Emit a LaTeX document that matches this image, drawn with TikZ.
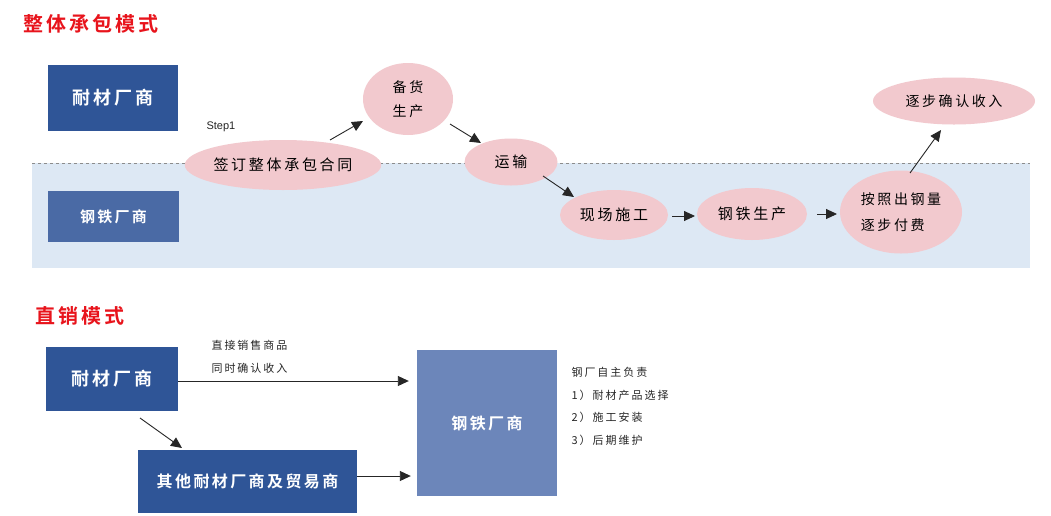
\documentclass[tikz,border=0pt]{standalone}
\usepackage{fontspec}
\setmainfont{Liberation Sans}
\newfontfamily\cjk[LetterSpace=18]{Noto Sans CJK SC}
\newfontfamily\cjkb[LetterSpace=15]{Noto Sans CJK SC Bold}
\usetikzlibrary{shapes.geometric,arrows.meta}
\definecolor{dblue}{HTML}{2F5597}
\definecolor{mblue}{HTML}{4A6AA5}
\definecolor{lblue}{HTML}{6C86BA}
\definecolor{band}{HTML}{DDE8F4}
\definecolor{pinkf}{HTML}{F2C9CE}
\definecolor{tred}{HTML}{E8141C}
\tikzset{
  box/.style={fill=#1, draw=none, text=white, font=\cjkb\fontsize{18}{20}\selectfont, inner sep=0pt},
  ell/.style={ellipse, fill=pinkf, draw=none, inner sep=0pt, font=\cjk\fontsize{15}{20}\selectfont, text=black},
  arr/.style={-{Triangle[length=11pt,width=10pt]}, line width=0.9pt, black!85},
  ttl/.style={text=tred, font=\cjkb\fontsize{20}{22}\selectfont, anchor=west},
  small/.style={font=\cjk\fontsize{11}{14}\selectfont, text=black!85, anchor=west}
}
\begin{document}
\begin{tikzpicture}[x=1pt,y=-1pt]
\useasboundingbox (0,0) rectangle (1051,515);
\fill[white] (0,0) rectangle (1051,515);
% band
\fill[band] (32,163) rectangle (1030,268);
\coordinate (dl) at (32,163);
\coordinate (dr) at (1030,163);
\draw[black!45, dashed, line width=0.6pt] (dl) -- (dr);
% titles
\node[ttl] (t1) at (20,24) {整体承包模式};
\node[ttl] (t2) at (32,316) {直销模式};
% top boxes
\node[box=dblue, minimum width=130pt, minimum height=66pt] (nc1) at (113,98) {耐材厂商};
\node[box=mblue, minimum width=131pt, minimum height=51pt, font=\cjkb\fontsize{15}{18}\selectfont] (gt1) at (113.5,216.5) {钢铁厂商};
\node[anchor=west, font=\fontsize{11}{13}\selectfont, text=black!85] (step) at (203,127) {Step1};
% ellipses
\node[ell, minimum width=195pt, minimum height=50pt] (e1) at (283,165) {签订整体承包合同};
\node[ell, minimum width=90pt, minimum height=72pt, align=center, font=\cjk\fontsize{14}{24}\selectfont] (e2) at (408,99) {备货\\生产};
\node[ell, minimum width=93pt, minimum height=47pt] (e3) at (511,162) {运输};
\node[ell, minimum width=108pt, minimum height=50pt] (e4) at (614,215) {现场施工};
\node[ell, minimum width=110pt, minimum height=52pt] (e5) at (752,214) {钢铁生产};
\node[ell, minimum width=122pt, minimum height=83pt, align=left, font=\cjk\fontsize{14}{26}\selectfont] (e6) at (901,212) {按照出钢量\\逐步付费};
\node[ell, minimum width=162pt, minimum height=47pt, font=\cjk\fontsize{14}{20}\selectfont] (e7) at (954,101) {逐步确认收入};
% arrows top
\coordinate (a1s) at (330,140); \coordinate (a1e) at (363,121);
\coordinate (a2s) at (450,124); \coordinate (a2e) at (481,143);
\coordinate (a3s) at (543,176); \coordinate (a3e) at (574,197);
\coordinate (a4s) at (672,216); \coordinate (a4e) at (695,216);
\coordinate (a5s) at (817,214); \coordinate (a5e) at (837,214);
\coordinate (a6s) at (910,173); \coordinate (a6e) at (941,130);
\draw[arr] (a1s) -- (a1e);
\draw[arr] (a2s) -- (a2e);
\draw[arr] (a3s) -- (a3e);
\draw[arr] (a4s) -- (a4e);
\draw[arr] (a5s) -- (a5e);
\draw[arr] (a6s) -- (a6e);
% bottom
\node[box=dblue, minimum width=132pt, minimum height=64pt] (nc2) at (112,379) {耐材厂商};
\node[box=dblue, minimum width=219pt, minimum height=63pt, font=\cjkb\fontsize{16}{18}\selectfont] (other) at (247.5,481.5) {其他耐材厂商及贸易商};
\node[box=lblue, minimum width=140pt, minimum height=146pt, font=\cjkb\fontsize{16}{18}\selectfont] (gt2) at (487,423) {钢铁厂商};
\draw[arr] (nc2.east |- 0,381) coordinate (b1s) -- ([xshift=-8pt]gt2.west |- 0,381);
\draw[arr] (other.east |- 0,476) coordinate (b2s) -- ([xshift=-6pt]gt2.west |- 0,476);
\coordinate (b3s) at (140,418); \coordinate (b3e) at (182,448);
\draw[arr] (b3s) -- (b3e);
\node[small, align=left, font=\cjk\fontsize{11}{23}\selectfont] (lbl) at (208,357) {直接销售商品\\同时确认收入};
\node[small, align=left, anchor=north west, font=\cjk\fontsize{11}{22.5}\selectfont] (resp) at (568,364) {钢厂自主负责\\1）耐材产品选择\\2）施工安装\\3）后期维护};
\end{tikzpicture}
\end{document}
